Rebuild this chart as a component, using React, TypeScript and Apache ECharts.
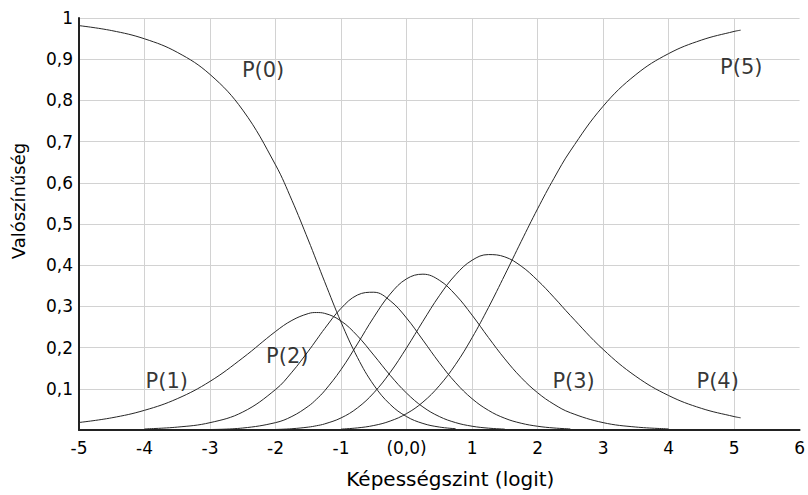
import React, { useEffect, useRef } from 'react';
import * as echarts from 'echarts';

// Ability level (logit) sample points shared by all curves
const xs = [-5, -4.5, -4, -3.5, -3, -2.5, -2, -1.75, -1.5, -1.375, -1.25, -1, -0.75, -0.5, -0.25, 0, 0.25, 0.5, 0.75, 1, 1.25, 1.5, 1.75, 2, 2.25, 2.5, 3, 3.5, 4, 4.5, 5, 5.1];

// Category probability curves (null = not drawn)
const p0 = [0.9815, 0.9694, 0.9495, 0.9167, 0.863, 0.7764, 0.6434, 0.5576, 0.4612, 0.4107, 0.3599, 0.2619, 0.1762, 0.1091, 0.0621, 0.0326, 0.0159, 0.0072, 0.0031, null, null, null, null, null, null, null, null, null, null, null, null, null];
const p1 = [0.0182, 0.0296, 0.0478, 0.076, 0.118, 0.175, 0.2391, 0.266, 0.2826, 0.2851, 0.2831, 0.2646, 0.2286, 0.1817, 0.1328, 0.0896, 0.056, 0.0327, 0.0179, 0.0092, 0.0045, 0.0021, null, null, null, null, null, null, null, null, null, null];
const p2 = [null, null, 0.0027, 0.007, 0.0178, 0.0436, 0.0982, 0.1403, 0.1913, 0.2187, 0.2461, 0.2953, 0.3276, 0.3344, 0.3138, 0.2718, 0.2182, 0.1634, 0.1147, 0.076, 0.0477, 0.0285, 0.0164, 0.0091, 0.0049, 0.0026, null, null, null, null, null, null];
const p3 = [null, null, null, null, 0.0012, 0.0048, 0.0179, 0.0329, 0.0576, 0.0747, 0.0952, 0.1467, 0.2089, 0.2737, 0.3299, 0.3669, 0.3782, 0.3636, 0.3278, 0.2789, 0.2245, 0.1726, 0.1272, 0.0905, 0.0625, 0.042, 0.0179, 0.0072, 0.0028, null, null, null];
const p4 = [null, null, null, null, null, null, 0.0013, 0.0031, 0.007, 0.0103, 0.0148, 0.0293, 0.0536, 0.0902, 0.1396, 0.1993, 0.2639, 0.3258, 0.377, 0.412, 0.4258, 0.4202, 0.3978, 0.3633, 0.322, 0.2781, 0.1957, 0.1303, 0.0837, 0.0526, 0.0326, 0.0296];
const p5 = [null, null, null, null, null, null, null, null, null, null, null, 0.0022, 0.0051, 0.0109, 0.0217, 0.0398, 0.0677, 0.1074, 0.1595, 0.2238, 0.2971, 0.3764, 0.4576, 0.5367, 0.6107, 0.6773, 0.7857, 0.8625, 0.9135, 0.9463, 0.9674, 0.9704];

// Curve annotations (data coordinates)
const curveNames = ['P(0)', 'P(1)', 'P(2)', 'P(3)', 'P(4)', 'P(5)'];
const labelX = [-2.19, -3.66, -1.82, 2.55, 4.75, 5.11];
const labelY = [0.874, 0.119, 0.18, 0.119, 0.119, 0.882];

const xTitle = 'Képességszint (logit)';
const yTitle = 'Valószínűség';

export default function App() {
  const ref = useRef<HTMLDivElement>(null);

  useEffect(() => {
    const chart = echarts.init(ref.current!, null, { renderer: 'svg' });
    const curves = [p0, p1, p2, p3, p4, p5];
    const font = 'DejaVu Sans, Verdana, sans-serif';

    const lineSeries = curves.map((vals, k) => ({
      type: 'line',
      name: curveNames[k],
      data: xs.map((x, i) => [x, vals[i]]).filter((d) => d[1] !== null),
      smooth: 0.4,
      showSymbol: false,
      lineStyle: { color: '#262626', width: 1 },
      silent: true,
      z: 3,
    }));

    chart.setOption({
      animation: false,
      textStyle: { fontFamily: font },
      grid: { left: 79, right: 5, top: 18, bottom: 65, containLabel: false },
      xAxis: {
        type: 'value',
        min: -5,
        max: 6,
        interval: 1,
        name: xTitle,
        nameLocation: 'middle',
        nameGap: 39,
        nameTextStyle: { fontSize: 20, color: '#000', fontFamily: font, padding: [0, 0, 0, 22] },
        axisLine: { show: true, onZero: false, lineStyle: { color: '#222', width: 2 } },
        axisTick: { show: false },
        axisLabel: {
          color: '#000',
          fontSize: 17,
          margin: 9,
          fontFamily: font,
          formatter: (v: number) => (v === 0 ? '(0,0)' : String(v)),
        },
        splitLine: { show: true, showMaxLine: false, lineStyle: { color: '#d2d2d2', width: 1 } },
      },
      yAxis: {
        type: 'value',
        min: 0,
        max: 1,
        interval: 0.1,
        name: yTitle,
        nameLocation: 'middle',
        nameGap: 52,
        nameTextStyle: { fontSize: 18, color: '#000', fontFamily: font, padding: [0, 0, 0, 46] },
        axisLine: { show: true, onZero: false, lineStyle: { color: '#222', width: 2 } },
        axisTick: { show: false },
        axisLabel: {
          color: '#000',
          fontSize: 17,
          margin: 6,
          fontFamily: font,
          formatter: (v: number) => (v === 0 ? '' : String(Math.round(v * 10) / 10).replace('.', ',')),
        },
        splitLine: { show: true, lineStyle: { color: '#d2d2d2', width: 1 } },
      },
      series: [
        ...lineSeries,
        {
          type: 'scatter',
          data: curveNames.map((n, k) => ({ name: n, value: [labelX[k], labelY[k]] })),
          symbolSize: 1,
          itemStyle: { color: 'rgba(0,0,0,0)' },
          silent: true,
          z: 5,
          label: {
            show: true,
            position: 'inside',
            formatter: '{b}',
            color: '#000',
            fontSize: 21,
            fontFamily: font,
          },
        },
      ],
    });

    return () => chart.dispose();
  }, []);

  return (
    <div
      ref={ref}
      style={{ position: 'fixed', left: 0, top: 0, width: 808, height: 495, background: '#fff' }}
    />
  );
}
